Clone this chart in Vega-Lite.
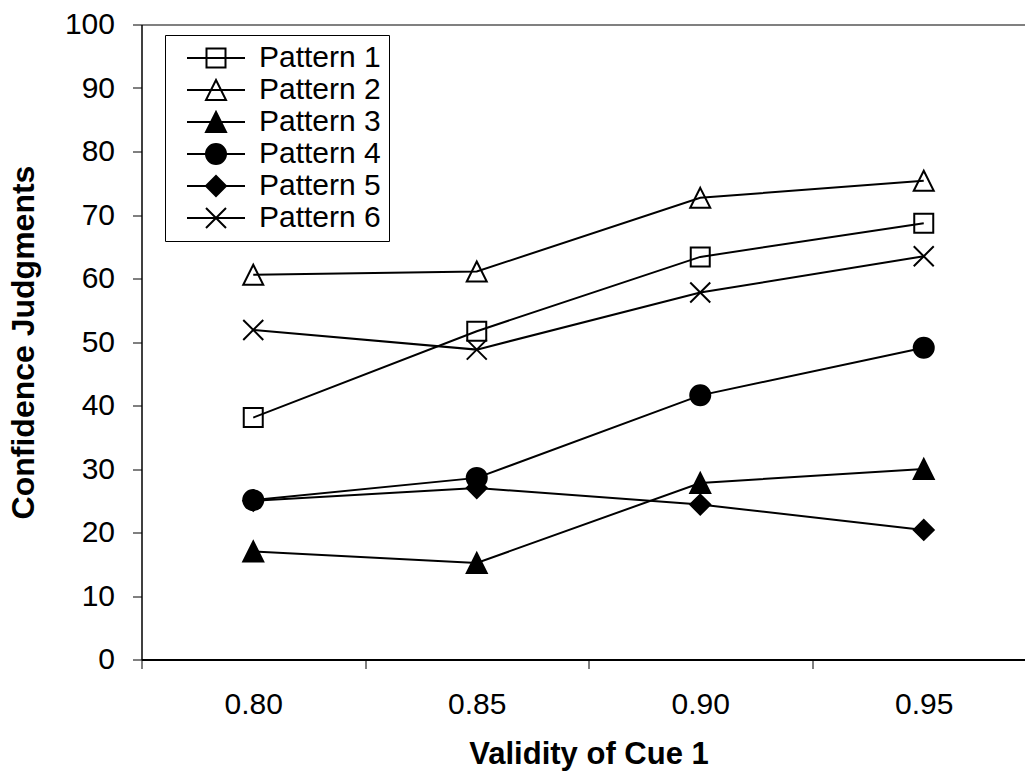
{
  "$schema": "https://vega.github.io/schema/vega-lite/v6.json",
  "autosize": {"type": "none"},
  "padding": {"left": 141.5, "top": 24.5, "right": 0, "bottom": 113.5},
  "width": 883,
  "height": 635,
  "background": "white",
  "config": {
    "view": {"stroke": null},
    "font": "Liberation Sans",
    "axis": {"labelFont": "Liberation Sans", "titleFont": "Liberation Sans", "labelColor": "black", "titleColor": "black"}
  },
  "data": {
    "values": [
      {"pattern": "Pattern 1", "validity": "0.80", "value": 38.1},
      {"pattern": "Pattern 1", "validity": "0.85", "value": 51.7},
      {"pattern": "Pattern 1", "validity": "0.90", "value": 63.4},
      {"pattern": "Pattern 1", "validity": "0.95", "value": 68.7},
      {"pattern": "Pattern 2", "validity": "0.80", "value": 60.6},
      {"pattern": "Pattern 2", "validity": "0.85", "value": 61.1},
      {"pattern": "Pattern 2", "validity": "0.90", "value": 72.7},
      {"pattern": "Pattern 2", "validity": "0.95", "value": 75.4},
      {"pattern": "Pattern 3", "validity": "0.80", "value": 17.0},
      {"pattern": "Pattern 3", "validity": "0.85", "value": 15.2},
      {"pattern": "Pattern 3", "validity": "0.90", "value": 27.8},
      {"pattern": "Pattern 3", "validity": "0.95", "value": 30.0},
      {"pattern": "Pattern 4", "validity": "0.80", "value": 25.1},
      {"pattern": "Pattern 4", "validity": "0.85", "value": 28.6},
      {"pattern": "Pattern 4", "validity": "0.90", "value": 41.6},
      {"pattern": "Pattern 4", "validity": "0.95", "value": 49.1},
      {"pattern": "Pattern 5", "validity": "0.80", "value": 25.0},
      {"pattern": "Pattern 5", "validity": "0.85", "value": 27.0},
      {"pattern": "Pattern 5", "validity": "0.90", "value": 24.4},
      {"pattern": "Pattern 5", "validity": "0.95", "value": 20.4},
      {"pattern": "Pattern 6", "validity": "0.80", "value": 51.9},
      {"pattern": "Pattern 6", "validity": "0.85", "value": 48.8},
      {"pattern": "Pattern 6", "validity": "0.90", "value": 57.8},
      {"pattern": "Pattern 6", "validity": "0.95", "value": 63.5}
    ]
  },
  "encoding": {
    "x": {
      "field": "validity", "type": "ordinal",
      "scale": {"type": "band", "paddingInner": 0, "paddingOuter": 0, "range": [0, 894]},
      "axis": {
        "title": "Validity of Cue 1", "labelAngle": 0, "labelFontSize": 30, "labelPadding": 21,
        "tickBand": "extent", "tickSize": 9, "tickColor": "black", "tickWidth": 1,
        "domainColor": "black", "domainWidth": 2,
        "titleFontSize": 31, "titleFontWeight": "bold", "titleBaseline": "alphabetic",
        "titleY": 103.5, "titleX": 447
      }
    },
    "y": {
      "field": "value", "type": "quantitative",
      "scale": {"domain": [0, 100], "nice": false, "zero": true},
      "axis": {
        "title": "Confidence Judgments", "values": [0, 10, 20, 30, 40, 50, 60, 70, 80, 90, 100],
        "labelFontSize": 30, "labelPadding": 18, "tickSize": 9, "tickColor": "black", "tickWidth": 1,
        "domainColor": "black", "domainWidth": 1.5,
        "grid": true, "gridColor": "#808080", "gridWidth": 2,
        "gridOpacity": {"condition": {"test": "datum.value === 100", "value": 1}, "value": 0},
        "titleFontSize": 32, "titleFontWeight": "bold", "titleBaseline": "alphabetic",
        "titleX": -108, "titleAngle": -90
      }
    }
  },
  "layer": [
    {
      "mark": {"type": "line", "color": "black", "strokeWidth": 2},
      "encoding": {"detail": {"field": "pattern"}}
    },
    {
      "mark": {"type": "point", "stroke": "black", "strokeWidth": 2, "size": 400, "opacity": 1},
      "encoding": {
        "shape": {
          "field": "pattern", "type": "nominal",
          "scale": {
            "domain": ["Pattern 1", "Pattern 2", "Pattern 3", "Pattern 4", "Pattern 5", "Pattern 6"],
            "range": ["M-0.95,-0.95H0.95V0.95H-0.95Z", "M0,-1L1,1L-1,1Z", "M0,-1L1,1L-1,1Z", "circle", "M-1,0L0,-1L1,0L0,1Z", "M-1,-1L1,1M-1,1L1,-1"]
          },
          "legend": null
        },
        "fill": {
          "field": "pattern", "type": "nominal",
          "scale": {
            "domain": ["Pattern 1", "Pattern 2", "Pattern 3", "Pattern 4", "Pattern 5", "Pattern 6"],
            "range": ["transparent", "transparent", "black", "black", "black", "transparent"]
          },
          "legend": null
        }
      }
    },
    {
      "transform": [{"filter": "datum.value < 0"}],
      "mark": {"type": "point", "stroke": "black", "strokeWidth": 2, "size": 400, "opacity": 1},
      "encoding": {
        "shape": {
          "field": "pattern", "type": "nominal",
          "scale": {
            "domain": ["Pattern 1", "Pattern 2", "Pattern 3", "Pattern 4", "Pattern 5", "Pattern 6"],
            "range": [
              "M-2.9,0H2.9M-0.95,-0.95H0.95V0.95H-0.95Z",
              "M-2.9,0H2.9M0,-1L1,1L-1,1Z",
              "M-2.9,0H2.9M0,-1L1,1L-1,1Z",
              "M-2.9,0H2.9M1,0A1,1,0,1,1,-1,0A1,1,0,1,1,1,0Z",
              "M-2.9,0H2.9M-1,0L0,-1L1,0L0,1Z",
              "M-2.9,0H2.9M-1,-1L1,1M-1,1L1,-1"
            ]
          },
          "legend": {
            "title": null, "orient": "none", "legendX": 23.5, "legendY": 10.5,
            "padding": 8, "symbolOffset": 28, "labelOffset": 28,
            "labelFont": "Liberation Sans", "labelFontSize": 30, "labelColor": "black", "labelLimit": 400,
            "labelExpr": "datum.label + '\u00a0'",
            "strokeColor": "black", "fillColor": "white", "cornerRadius": 0,
            "symbolStrokeColor": "black", "symbolStrokeWidth": 2, "symbolSize": 400, "symbolOpacity": 1,
            "rowPadding": 2,
            "encode": {"symbols": {"update": {"stroke": {"value": "black"}, "strokeWidth": {"value": 2}, "opacity": {"value": 1}, "strokeOpacity": {"value": 1}}}}
          }
        },
        "fill": {
          "field": "pattern", "type": "nominal",
          "scale": {
            "domain": ["Pattern 1", "Pattern 2", "Pattern 3", "Pattern 4", "Pattern 5", "Pattern 6"],
            "range": ["transparent", "transparent", "black", "black", "black", "transparent"]
          },
          "legend": {
            "title": null, "orient": "none", "legendX": 23.5, "legendY": 10.5,
            "padding": 8, "symbolOffset": 28, "labelOffset": 28,
            "labelFont": "Liberation Sans", "labelFontSize": 30, "labelColor": "black", "labelLimit": 400,
            "labelExpr": "datum.label + '\u00a0'",
            "strokeColor": "black", "fillColor": "white", "cornerRadius": 0,
            "symbolStrokeColor": "black", "symbolStrokeWidth": 2, "symbolSize": 400, "symbolOpacity": 1,
            "rowPadding": 2,
            "encode": {"symbols": {"update": {"stroke": {"value": "black"}, "strokeWidth": {"value": 2}, "opacity": {"value": 1}, "strokeOpacity": {"value": 1}}}}
          }
        }
      }
    }
  ],
  "resolve": {"scale": {"shape": "independent", "fill": "independent"}}
}
